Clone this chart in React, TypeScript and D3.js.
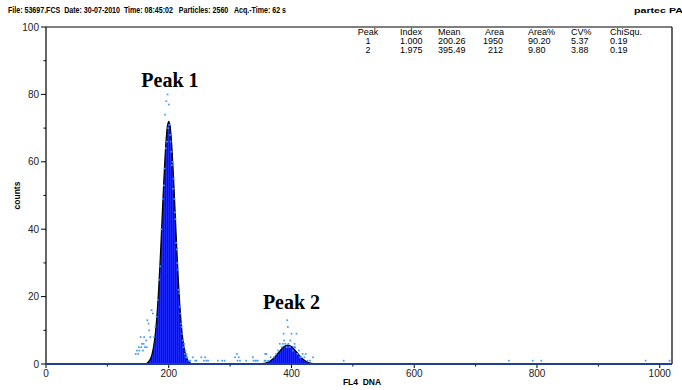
import React from 'react';
import * as d3 from 'd3';

// histogram (FL4 DNA) with two gaussian peak fits

const W = 682;
const H = 390;
const margin = {left: 46, right: 10, top: 27, bottom: 26};

const xTicks = [0, 200, 400, 600, 800, 1000];
const xMinor = [100, 300, 500, 700, 900];
const yTicks = [0, 20, 40, 60, 80, 100];
const yMinor = [10, 30, 50, 70, 90];

// fitted curve, peak 1
const fit1Ch = [164, 166, 168, 170, 172, 174, 176, 178, 180, 182, 184, 186, 188, 190, 192, 194, 196, 198, 200,
  202, 204, 206, 208, 210, 212, 214, 216, 218, 220, 222, 224, 226, 228, 230, 232, 234, 236];
const fit1Val = [0.2, 0.5, 0.9, 1.5, 2.4, 3.9, 6.0, 8.8, 12.7, 17.6, 23.8, 30.7, 38.6, 46.7, 54.6, 61.6, 67.2, 70.8, 72,
  70.8, 67.2, 61.6, 54.6, 46.7, 38.6, 30.7, 23.8, 17.6, 12.7, 8.8, 6.0, 3.9, 2.4, 1.5, 0.9, 0.5, 0.2];

// fitted curve, peak 2
const fit2Ch = [352, 358, 364, 370, 376, 382, 388, 394, 400, 406, 412, 418, 424, 430, 436];
const fit2Val = [0.11, 0.31, 0.76, 1.56, 2.73, 4.07, 5.17, 5.6, 5.17, 4.07, 2.73, 1.56, 0.76, 0.31, 0.11];

// raw channel counts (non-zero)
const dotCh = [
  146, 148, 150, 151, 152, 154, 155, 156, 158, 159, 160, 161, 163, 164, 165, 167, 168, 170, 172, 174,
  176, 178, 180, 182, 184, 186, 188, 190, 192, 193, 194, 195, 196, 197, 198, 199, 200, 201, 202, 203, 204, 205, 206,
  207, 208, 209, 210, 211, 212, 213, 214, 215, 216, 217, 218, 219, 220, 221, 222, 223, 224, 225, 226, 227, 228, 229, 230, 232,
  235, 239, 243, 245, 253, 257, 259, 261, 264, 280, 287, 291, 308, 311, 312, 314, 316, 326, 337, 338, 341, 342, 345, 356,
  357, 358, 359,
  362, 366, 371, 375, 378, 381, 384, 386, 387, 388, 390, 392, 393, 394, 395, 397, 398, 400, 402, 404, 405, 406, 408, 410,
  412, 414, 416, 418, 421, 423, 426, 430, 435,
  485, 754, 793, 807, 977, 1016];
const dotCount = [
  3, 4, 3, 5, 4, 8, 5, 6, 4, 6, 8, 5, 7, 5, 13, 12, 10, 8, 16, 15,
  8, 11, 14, 19, 25, 29, 40, 49, 53, 58, 74, 64, 78, 66, 80, 70, 77, 71, 68, 66, 63, 59, 60,
  52, 55, 49, 45, 43, 36, 34, 30, 28, 22, 21, 17, 15, 12, 11, 9, 7, 5, 6, 3, 4, 2, 3, 2, 1,
  1, 2, 1, 1, 2, 1, 2, 1, 1, 1, 1, 1, 2, 3, 1, 2, 1, 1, 2, 1, 1, 1, 1, 1,
  3, 1, 3,
  1, 2, 2, 3, 4, 6, 5, 6, 9, 7, 6, 5, 13, 11, 6, 5, 7, 9, 4, 5, 6, 5, 9, 3,
  4, 2, 2, 3, 2, 3, 1, 1, 2,
  1, 1, 1, 1, 1, 1];

const header = 'File: 53697.FCS  Date: 30-07-2010  Time: 08:45:02   Particles: 2560   Acq.-Time: 62 s';
const tableCols = ['Peak', 'Index', 'Mean', 'Area', 'Area%', 'CV%', 'ChiSqu.'];
const tableRows = [
  ['1', '1.000', '200.26', '1950', '90.20', '5.37', '0.19'],
  ['2', '1.975', '395.49', '212', '9.80', '3.88', '0.19'],
];
const peakLabels = ['Peak 1', 'Peak 2'];
const peakLabelPos = [[202, 84], [400, 18]]; // channel, count

const App = () => {
  const x = d3.scaleLinear().domain([0, 1020]).range([margin.left, W - margin.right]);
  const y = d3.scaleLinear().domain([0, 100]).range([H - margin.bottom, margin.top]);

  const area = d3.area<[number, number]>()
    .x(d => x(d[0]))
    .y0(y(0))
    .y1(d => y(d[1]))
    .curve(d3.curveCatmullRom);
  const line = d3.line<[number, number]>()
    .x(d => x(d[0]))
    .y(d => y(d[1]))
    .curve(d3.curveCatmullRom);

  const fit1 = fit1Ch.map((c, i) => [c, fit1Val[i]] as [number, number]);
  const fit2 = fit2Ch.map((c, i) => [c, fit2Val[i]] as [number, number]);
  const dots = dotCh.map((c, i) => [c, dotCount[i]]);

  // table columns: x position and anchor
  const colX = [368, 400, 438, 503, 528, 571, 610];
  const colAnchor = ['middle', 'start', 'start', 'end', 'start', 'start', 'start'];

  const font = 'Liberation Sans, Arial, sans-serif';
  const x0 = x(0), x1 = W - margin.right, yb = y(0), yt = y(100);

  return (
    <svg width={W} height={H} style={{position: 'absolute', left: 0, top: 0, background: '#fff'}} fontFamily={font}>
      <defs>
        <pattern id="bars" width="2" height="4" patternUnits="userSpaceOnUse">
          <rect width="2" height="4" fill="#0a0af2"/>
          <rect width="0.7" height="4" fill="#2436ff"/>
        </pattern>
      </defs>

      <text x={8} y={13} fontSize={9.5} fontWeight="bold" textLength={278} lengthAdjust="spacingAndGlyphs"
            style={{whiteSpace: 'pre'}}>{header}</text>
      <text x={634} y={13} fontSize={8} fontWeight="bold" textLength={56} lengthAdjust="spacingAndGlyphs">partec PAS</text>

      {/* frame */}
      <line x1={x0} x2={x1} y1={yt} y2={yt} stroke="#000" strokeWidth={1.2}/>
      <line x1={x1} x2={x1} y1={yt} y2={yb} stroke="#000" strokeWidth={1.2}/>
      <line x1={x0} x2={x0} y1={yt} y2={yb} stroke="#000" strokeWidth={1.2}/>

      {/* y axis */}
      {yTicks.map(t => (
        <g key={'y' + t}>
          <line x1={x0 - 5} x2={x0} y1={y(t)} y2={y(t)} stroke="#000"/>
          <text x={x0 - 7} y={y(t) + 3.5} fontSize={10} textAnchor="end" fill="#222">{t}</text>
        </g>
      ))}
      {yMinor.map(t => (
        <line key={'ym' + t} x1={x0 - 2.5} x2={x0} y1={y(t)} y2={y(t)} stroke="#000"/>
      ))}
      <text transform={`translate(20,${(yt + yb) / 2}) rotate(-90)`} fontSize={8.5} fontWeight="bold" textAnchor="middle">counts</text>

      {/* x axis */}
      {xTicks.map(t => (
        <g key={'x' + t}>
          <line x1={x(t)} x2={x(t)} y1={yb} y2={yb + 4} stroke="#000"/>
          <text x={x(t)} y={yb + 13} fontSize={10} textAnchor="middle" fill="#222">{t}</text>
        </g>
      ))}
      {xMinor.map(t => (
        <line key={'xm' + t} x1={x(t)} x2={x(t)} y1={yb} y2={yb + 2.5} stroke="#000"/>
      ))}
      <text x={362} y={yb + 21} fontSize={8.5} fontWeight="bold" textAnchor="middle" style={{whiteSpace: 'pre'}}>FL4  DNA</text>

      {/* fits */}
      <path d={area(fit1) || ''} fill="url(#bars)"/>
      <path d={area(fit2) || ''} fill="url(#bars)"/>
      <path d={line(fit1) || ''} fill="none" stroke="#000" strokeWidth={1.2}/>
      <path d={line(fit2) || ''} fill="none" stroke="#000" strokeWidth={1.2}/>

      {/* zero baseline */}
      <line x1={x0} x2={x1} y1={yb} y2={yb} stroke="#1f3f8f" strokeWidth={2}/>

      {/* raw counts */}
      {dots.map((d, i) => (
        <rect key={'d' + i} x={x(d[0]) - 0.8} y={y(d[1]) - 0.8} width={1.7} height={1.7} fill="#3f9bff"/>
      ))}

      {/* stats table */}
      {tableCols.map((c, i) => (
        <text key={'h' + i} x={i === 3 ? 485 : colX[i]} y={35} fontSize={9} textAnchor={i === 3 ? 'start' : colAnchor[i]}>{c}</text>
      ))}
      {tableRows.map((r, ri) => r.map((v, ci) => (
        <text key={'r' + ri + ci} x={colX[ci]} y={44 + ri * 9} fontSize={9} textAnchor={colAnchor[ci]}>{v}</text>
      )))}

      {peakLabels.map((p, i) => (
        <text key={p} x={x(peakLabelPos[i][0])} y={y(peakLabelPos[i][1]) + 6} fontSize={20} fontWeight="bold"
              fontFamily="Liberation Serif, Times New Roman, serif" textAnchor="middle">{p}</text>
      ))}
    </svg>
  );
};

export default App;
